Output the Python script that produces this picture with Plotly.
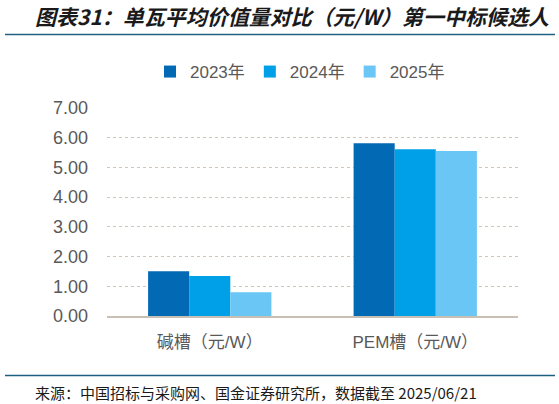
import plotly.graph_objects as go

# data
categories = ['碱槽（元/W）', 'PEM槽（元/W）']
years = ['2023年', '2024年', '2025年']
values_2023 = [1.51, 5.81]
values_2024 = [1.35, 5.61]
values_2025 = [0.80, 5.55]
y_ticks = [0, 1, 2, 3, 4, 5, 6, 7]

colors = ['#0269B4', '#00A0E9', '#6AC6F4']
series = [values_2023, values_2024, values_2025]

fig = go.Figure()
for name, vals, col in zip(years, series, colors):
    fig.add_trace(go.Bar(
        x=categories,
        y=vals,
        name=name,
        marker=dict(color=col, line=dict(width=0)),
    ))

# page geometry (px)
W, H = 559, 404
L, R, T, B = 107, 41, 108, 88
pw, ph = W - L - R, H - T - B


def px_x(x):
    return (x - L) / pw


def px_y(y):
    return (H - B - y) / ph


fig.update_layout(
    width=W,
    height=H,
    paper_bgcolor='white',
    plot_bgcolor='white',
    margin=dict(l=L, r=R, t=T, b=B),
    barmode='group',
    bargap=0.4,
    bargroupgap=0,
    font=dict(family='Liberation Sans, Noto Sans CJK SC', color='#595959'),
    legend=dict(
        orientation='h',
        x=px_x(300), xanchor='center',
        y=px_y(72), yanchor='middle',
        font=dict(size=17, color='#595959'),
        itemwidth=30,
        tracegroupgap=0,
        bgcolor='rgba(0,0,0,0)',
    ),
    xaxis=dict(
        showgrid=False,
        showline=True,
        linecolor='#C9BFB5',
        linewidth=1.5,
        ticks='',
        ticklabelstandoff=10,
        tickfont=dict(size=17, color='#595959'),
    ),
    yaxis=dict(
        range=[0, 7],
        tickvals=y_ticks,
        tickformat='.2f',
        showgrid=True,
        gridcolor='#CFC5BB',
        griddash='dot',
        gridwidth=1,
        zeroline=False,
        showline=False,
        ticks='',
        ticklabelstandoff=18,
        tickfont=dict(size=18, color='#595959'),
    ),
    shapes=[
        dict(type='line', xref='paper', yref='paper',
             x0=px_x(5), x1=px_x(555), y0=px_y(34.5), y1=px_y(34.5),
             line=dict(color='#1F5F7F', width=1.5)),
        dict(type='line', xref='paper', yref='paper',
             x0=px_x(5), x1=px_x(555), y0=px_y(375.5), y1=px_y(375.5),
             line=dict(color='#1F5F7F', width=1.5)),
    ],
    annotations=[
        dict(text='<b><i>图表31：单瓦平均价值量对比（元/W）第一中标候选人</i></b>',
             xref='paper', yref='paper', x=px_x(33), y=px_y(16),
             xanchor='left', yanchor='middle', showarrow=False,
             font=dict(family='Noto Sans CJK SC', size=21, color='#1A1A1A')),
        dict(text='来源：中国招标与采购网、国金证券研究所，数据截至 2025/06/21',
             xref='paper', yref='paper', x=px_x(33), y=px_y(392.5),
             xanchor='left', yanchor='middle', showarrow=False,
             font=dict(family='Noto Sans CJK SC', size=15, color='#1A1A1A')),
    ],
)

# the page's default body margin would push the chart 8px off
fig.write_html('out.html', config={'displayModeBar': False},
               post_script="document.body.style.margin='0';")
